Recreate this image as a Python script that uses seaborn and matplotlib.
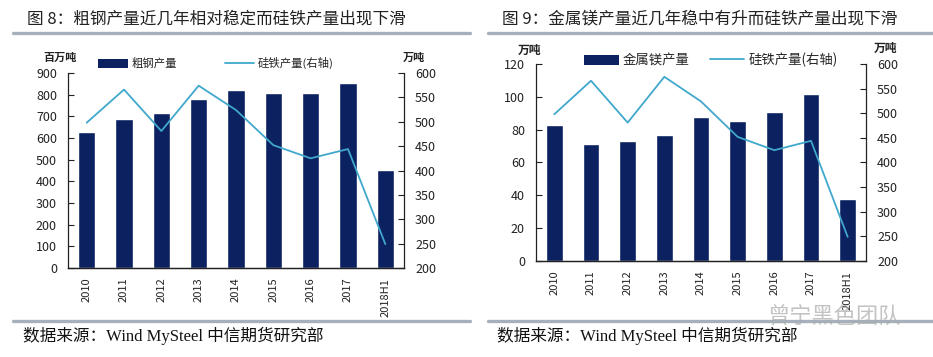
import numpy as np
import matplotlib
matplotlib.use('Agg')
import matplotlib.pyplot as plt
import seaborn as sns
from matplotlib.patches import Patch
from matplotlib.lines import Line2D

# data
years = ['2010', '2011', '2012', '2013', '2014', '2015', '2016', '2017', '2018H1']
crude_steel = [630, 690, 715, 780, 822, 806, 810, 852, 452]      # 百万吨
magnesium = [83, 71.5, 73, 77, 87.5, 85, 91, 102, 38]            # 万吨
ferrosilicon = [498, 566, 481, 574, 524, 452, 425, 444, 249]     # 万吨 (右轴)

navy = '#0B2160'
cyan = '#40A8CC'
sep_gray = '#A6B0BC'

sns.set_style('white')
plt.rcParams['font.family'] = ['Noto Sans CJK SC', 'DejaVu Sans']

fig = plt.figure(figsize=(9.33, 3.57), dpi=100)


def draw_panel(rect, bars, bar_label, ylim, yticks, fs_leg, leg_anchor, colspace):
    ax = fig.add_axes(rect)
    sns.barplot(x=years, y=bars, color=navy, saturation=1, width=0.46, ax=ax)
    ax2 = ax.twinx()
    sns.lineplot(x=np.arange(len(years)), y=ferrosilicon, color=cyan, lw=1.3, ax=ax2)

    ax.set_xlim(-0.5, len(years) - 0.5)
    ax.set_ylim(*ylim)
    ax.set_yticks(yticks)
    ax2.set_ylim(200, 600)
    ax2.set_yticks(np.arange(200, 601, 50))
    ax.set_xlabel('')
    ax.set_ylabel('')
    ax2.set_ylabel('')

    for a in (ax, ax2):
        for side in ('left', 'right', 'bottom'):
            a.spines[side].set_color('#222222')
            a.spines[side].set_linewidth(0.9)
        a.spines['top'].set_visible(False)
    ax.spines['right'].set_visible(False)
    ax2.spines['left'].set_visible(False)

    ax.tick_params(axis='y', direction='in', length=4, pad=8, labelsize=9, colors='#222222')
    ax2.tick_params(axis='y', direction='in', length=4, pad=8, labelsize=9, colors='#222222')
    ax.set_xticks(np.arange(len(years)))
    ax.set_xticklabels(years, rotation=90, fontsize=8)
    ax.set_xticks(np.arange(-0.5, len(years), 1), minor=True)
    ax.tick_params(axis='x', which='major', length=0, pad=7, colors='#222222')
    ax.tick_params(axis='x', which='minor', direction='in', length=4, color='#222222')

    handles = [Patch(facecolor=navy, edgecolor='none'),
               Line2D([0], [0], color=cyan, lw=1.3)]
    ax.legend(handles, [bar_label, '硅铁产量(右轴)'], ncol=2, frameon=False,
              loc='center', bbox_to_anchor=leg_anchor, fontsize=fs_leg,
              handlelength=2.6, handleheight=0.8, handletextpad=0.3,
              columnspacing=colspace, borderaxespad=0)
    return ax, ax2


draw_panel([68 / 933, 1 - 268 / 357, 336 / 933, 195 / 357], crude_steel, '粗钢产量',
           (0, 900), np.arange(0, 901, 100), 8.2, (0.44, 1.05), 4.2)
draw_panel([536 / 933, 1 - 261 / 357, 330 / 933, 197 / 357], magnesium, '金属镁产量',
           (0, 120), np.arange(0, 121, 20), 9.6, (0.53, 1.02), 1.5)

# unit labels
fig.text(60 / 933, 1 - 57 / 357, '百万吨', ha='center', va='center', fontsize=8, fontweight='bold', color='#222222')
fig.text(414 / 933, 1 - 57 / 357, '万吨', ha='center', va='center', fontsize=8, fontweight='bold', color='#222222')
fig.text(530 / 933, 1 - 50 / 357, '万吨', ha='center', va='center', fontsize=8.5, fontweight='bold', color='#222222')
fig.text(886 / 933, 1 - 48 / 357, '万吨', ha='center', va='center', fontsize=8.5, fontweight='bold', color='#222222')

# titles
fig.text(27 / 933, 1 - 19 / 357, '图 8：粗钢产量近几年相对稳定而硅铁产量出现下滑',
         ha='left', va='center', fontsize=12, color='#222222')
fig.text(502 / 933, 1 - 19 / 357, '图 9：金属镁产量近几年稳中有升而硅铁产量出现下滑',
         ha='left', va='center', fontsize=12, color='#222222')

# separator bars
for x0, x1 in [(13, 470), (488, 933)]:
    for yy in (33, 321):
        fig.add_artist(Line2D([x0 / 933, x1 / 933], [1 - yy / 357, 1 - yy / 357],
                              color=sep_gray, lw=2.4, transform=fig.transFigure))

# source notes
src = '数据来源：Wind MySteel 中信期货研究部'
fig.text(23 / 933, 1 - 336 / 357, src, ha='left', va='center', fontsize=12,
         family=['Liberation Serif', 'Noto Sans CJK SC'], color='#111111')
fig.text(497 / 933, 1 - 336 / 357, src, ha='left', va='center', fontsize=12,
         family=['Liberation Serif', 'Noto Sans CJK SC'], color='#111111')

# watermark
fig.text(834 / 933, 1 - 316 / 357, '曾宁黑色团队', ha='center', va='center', fontsize=16,
         color='#AAAAAA', alpha=0.7)

fig.savefig('out.png', dpi=100)
